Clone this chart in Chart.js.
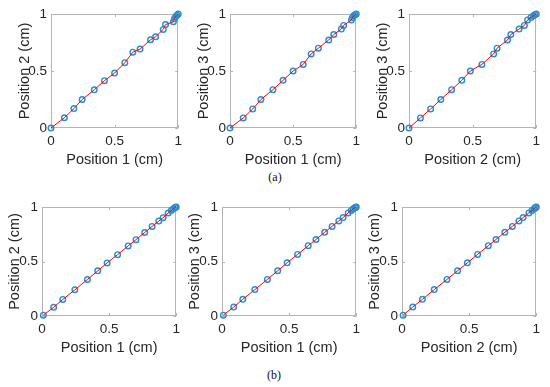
<!DOCTYPE html>
<html>
<head>
<meta charset="utf-8">
<script src="https://cdn.jsdelivr.net/npm/chart.js@4"></script>
<style>
  html, body { margin: 0; padding: 0; background: #fff; }
  #page { position: relative; width: 550px; height: 387px; overflow: hidden; }
  #page canvas { position: absolute; }
  .cap { position: absolute; width: 40px; text-align: center; font: 12px 'Liberation Serif', serif; color: #111; }
</style>
</head>
<body>
<div id="page">
  <div class="cap" style="left:255px; top:170px;">(a)</div>
  <div class="cap" style="left:254px; top:368px;">(b)</div>
</div>
<script>
// (a) measured positions
const pos1a = [0, 0.105, 0.18, 0.245, 0.34, 0.42, 0.50, 0.58, 0.643, 0.70, 0.782, 0.822, 0.882, 0.90, 0.962, 0.97, 0.98, 0.99, 1];
const pos2a = [0, 0.09, 0.17, 0.25, 0.335, 0.415, 0.482, 0.573, 0.665, 0.692, 0.774, 0.80, 0.865, 0.907, 0.932, 0.958, 0.977, 0.989, 1];
const pos3a = [0, 0.088, 0.167, 0.25, 0.336, 0.418, 0.50, 0.558, 0.65, 0.70, 0.772, 0.82, 0.868, 0.90, 0.948, 0.97, 0.985, 0.994, 1];

// (b) measured positions
const pos1b = [0.01, 0.087, 0.155, 0.245, 0.338, 0.415, 0.485, 0.563, 0.642, 0.70, 0.765, 0.82, 0.87, 0.902, 0.94, 0.963, 0.978, 0.99, 0.995, 1];
const pos2b = [0.008, 0.08, 0.152, 0.24, 0.335, 0.414, 0.487, 0.563, 0.643, 0.70, 0.766, 0.822, 0.871, 0.902, 0.945, 0.968, 0.984, 0.994, 0.997, 1];
const pos3b = [0.008, 0.082, 0.153, 0.242, 0.336, 0.415, 0.488, 0.565, 0.645, 0.702, 0.768, 0.822, 0.872, 0.903, 0.946, 0.969, 0.985, 0.994, 0.997, 1];

const axisTicks = [0, 0.5, 1];
const tickLabels = ['0', '0.5', '1'];

Chart.defaults.font.family = "'Liberation Sans', Arial, sans-serif";
Chart.defaults.color = '#262626';

// matlab style box with small inner ticks
const boxPlugin = {
    id: 'box',
    beforeDatasetsDraw(chart) {
        const { ctx, chartArea: a, scales: { x, y } } = chart;
        ctx.save();
        ctx.strokeStyle = '#b4b4b4';
        ctx.lineWidth = 1;
        ctx.strokeRect(Math.round(a.left) + 0.5, Math.round(a.top) + 0.5,
            Math.round(a.right - a.left) - 1, Math.round(a.bottom - a.top) - 1);
        ctx.beginPath();
        axisTicks.forEach(v => {
            const px = Math.round(x.getPixelForValue(v)) + 0.5;
            ctx.moveTo(px, a.bottom); ctx.lineTo(px, a.bottom - 3);
            ctx.moveTo(px, a.top); ctx.lineTo(px, a.top + 3);
            const py = Math.round(y.getPixelForValue(v)) + 0.5;
            ctx.moveTo(a.left, py); ctx.lineTo(a.left + 3, py);
            ctx.moveTo(a.right, py); ctx.lineTo(a.right - 3, py);
        });
        ctx.stroke();
        ctx.restore();
    }
};

const fmtTick = (v) => tickLabels[axisTicks.indexOf(v)] ?? '';

function makePanel(p) {
    const W = p.yAxisW, H = 42, padTop = 14, padRight = 5;
    const canvas = document.createElement('canvas');
    const cw = W + (p.right - p.left) + padRight;
    const ch = padTop + (p.bottom - p.top) + H;
    canvas.width = cw;
    canvas.height = ch;
    canvas.style.left = (p.left - W) + 'px';
    canvas.style.top = (p.top - padTop) + 'px';
    document.getElementById('page').appendChild(canvas);

    const pts = p.xs.map((v, i) => ({ x: v, y: p.ys[i] }));

    new Chart(canvas, {
        type: 'scatter',
        data: {
            datasets: [{
                data: pts,
                showLine: true,
                borderColor: '#ff0000',
                borderWidth: 1,
                pointRadius: 0,
                clip: 10,
                order: 0
            }, {
                data: pts,
                showLine: false,
                pointRadius: 2.8,
                pointBorderWidth: 1.4,
                pointBorderColor: '#2190d4',
                pointBackgroundColor: 'rgba(0,0,0,0)',
                clip: 10,
                order: 1
            }]
        },
        options: {
            responsive: false,
            animation: false,
            layout: { padding: { top: padTop, right: padRight, left: 0, bottom: 0 } },
            plugins: { legend: { display: false }, tooltip: { enabled: false } },
            scales: {
                x: {
                    type: 'linear', min: 0, max: 1,
                    afterFit: s => { s.height = H; },
                    afterBuildTicks: s => { s.ticks = axisTicks.map(v => ({ value: v })); },
                    grid: { display: false, drawTicks: false },
                    border: { display: false },
                    ticks: { font: { size: 13.5 }, padding: 5, maxRotation: 0, callback: fmtTick },
                    title: { display: true, text: p.xLabel, font: { size: 14.5 }, padding: { top: 0, bottom: 1 } }
                },
                y: {
                    type: 'linear', min: 0, max: 1,
                    afterFit: s => { s.width = W; },
                    afterBuildTicks: s => { s.ticks = axisTicks.map(v => ({ value: v })); },
                    grid: { display: false, drawTicks: false },
                    border: { display: false },
                    ticks: { font: { size: 13.5 }, padding: 4, callback: fmtTick },
                    title: { display: true, text: p.yLabel, font: { size: 14.5 }, padding: { top: p.titleGap, bottom: 0 } }
                }
            }
        },
        plugins: [boxPlugin]
    });
}

const panels = [
    { xs: pos1a, ys: pos2a, xLabel: 'Position 1 (cm)', yLabel: 'Position 2 (cm)', left: 51, right: 182, top: 14, bottom: 128, yAxisW: 51, titleGap: 16 },
    { xs: pos1a, ys: pos3a, xLabel: 'Position 1 (cm)', yLabel: 'Position 3 (cm)', left: 230, right: 360, top: 14, bottom: 128, yAxisW: 51, titleGap: 16 },
    { xs: pos2a, ys: pos3a, xLabel: 'Position 2 (cm)', yLabel: 'Position 3 (cm)', left: 409, right: 540, top: 14, bottom: 128, yAxisW: 51, titleGap: 16 },
    { xs: pos1b, ys: pos2b, xLabel: 'Position 1 (cm)', yLabel: 'Position 2 (cm)', left: 42, right: 180, top: 207, bottom: 316, yAxisW: 42, titleGap: 6 },
    { xs: pos1b, ys: pos3b, xLabel: 'Position 1 (cm)', yLabel: 'Position 3 (cm)', left: 222, right: 360, top: 207, bottom: 316, yAxisW: 42, titleGap: 6 },
    { xs: pos2b, ys: pos3b, xLabel: 'Position 2 (cm)', yLabel: 'Position 3 (cm)', left: 402, right: 540, top: 207, bottom: 316, yAxisW: 42, titleGap: 6 }
];

panels.forEach(makePanel);
</script>
</body>
</html>
